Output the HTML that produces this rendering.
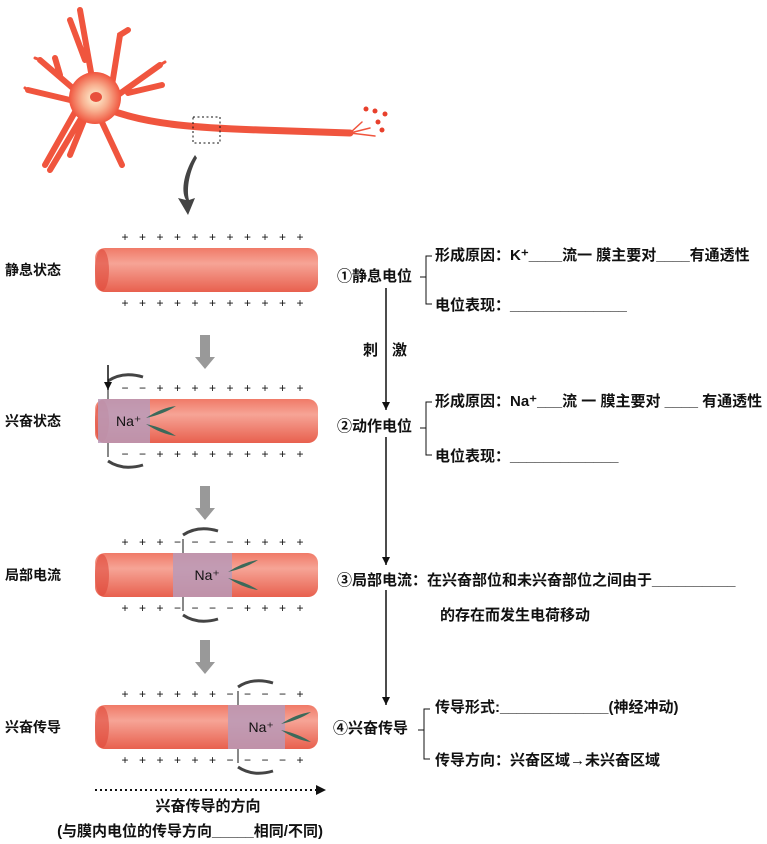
<!DOCTYPE html>
<html><head><meta charset="utf-8"><style>
body{margin:0;background:#fff;width:767px;height:844px;overflow:hidden}
svg{display:block}
text{font-family:"Liberation Sans","Noto Sans CJK SC",sans-serif;fill:#111}
.t{font-size:14px;font-weight:bold}
.r{font-size:15px;font-weight:bold}
</style></head><body>
<svg id="s" width="767" height="844" viewBox="0 0 767 844">
<defs>
<linearGradient id="ax" x1="0" y1="0" x2="0" y2="1">
<stop offset="0" stop-color="#f07a68"/><stop offset="0.35" stop-color="#f6a496"/><stop offset="1" stop-color="#e8604e"/></linearGradient>
<radialGradient id="soma"><stop offset="0" stop-color="#fff6d8"/><stop offset="0.5" stop-color="#f8b090"/><stop offset="1" stop-color="#f0553e"/></radialGradient>
<marker id="ar" markerWidth="8" markerHeight="8" refX="8" refY="4" orient="auto" markerUnits="userSpaceOnUse"><path d="M0,0 L8,4 L0,8z" fill="#111"/></marker>
</defs>
<g stroke="#f0553e" fill="none" stroke-linecap="round">
<path d="M95,95 L80,10 M85,60 L70,20 M112,85 L120,35 L128,30 M75,90 L40,60 M60,75 L55,58 M70,100 L28,90 M118,95 L160,65 M128,93 L162,85 M75,112 L45,165 M85,118 L70,155 M100,118 L122,165 M80,120 L50,170" stroke-width="6"/>
<path d="M40,60 L35,58 M28,90 L25,88 M160,65 L165,62" stroke-width="3"/>
<path d="M110,110 C150,125 200,128 260,130 L350,133" stroke-width="7"/>
<path d="M350,133 L362,122 M350,133 L370,128 M350,133 L375,136" stroke-width="1.5"/>
<circle cx="95" cy="98" r="26" fill="url(#soma)" stroke="none"/>
<ellipse cx="96" cy="97" rx="6" ry="5" fill="#e8503c" stroke="none"/>
<g fill="#e8402c" stroke="none"><circle cx="366" cy="109" r="2.5"/><circle cx="375" cy="111" r="2.5"/><circle cx="385" cy="114" r="2.5"/><circle cx="378" cy="122" r="2.5"/><circle cx="382" cy="130" r="2.5"/></g>
</g>
<rect x="193" y="117" width="27" height="26" fill="none" stroke="#111" stroke-dasharray="2,2.5"/>
<path d="M195,155 C185,170 180,190 186,200 L178,198 L188,215 L195,198 L189,200 C186,188 190,170 197,158z" fill="#444"/>
<g id="axons"></g>
<g>
<line x1="386" y1="288" x2="386" y2="410" stroke="#111" stroke-width="1.5" marker-end="url(#ar)"/>
<line x1="386" y1="437" x2="386" y2="565" stroke="#111" stroke-width="1.5" marker-end="url(#ar)"/>
<line x1="386" y1="590" x2="386" y2="705" stroke="#111" stroke-width="1.5" marker-end="url(#ar)"/>
<text class="r" x="363" y="355">刺</text>
<text class="r" x="392" y="355">激</text>
<text class="r" x="337" y="281">①静息电位</text>
<path d="M420,277 h6 M432,256 h-6 v48 h6" stroke="#111" fill="none"/>
<text class="r" x="435" y="260">形成原因：K⁺____流一  膜主要对____有通透性</text>
<text class="r" x="435" y="310">电位表现：______________</text>
<text class="r" x="337" y="431">②动作电位</text>
<path d="M420,428 h6 M432,402 h-6 v53 h6" stroke="#111" fill="none"/>
<text class="r" x="435" y="406">形成原因：Na⁺___流 一 膜主要对 ____ 有通透性</text>
<text class="r" x="435" y="461">电位表现：_____________</text>
<text class="r" x="337" y="585">③局部电流：在兴奋部位和未兴奋部位之间由于__________</text>
<text class="r" x="440" y="620">的存在而发生电荷移动</text>
<text class="r" x="333" y="733">④兴奋传导</text>
<path d="M418,730 h6 M430,709 h-6 v50 h6" stroke="#111" fill="none"/>
<text class="r" x="435" y="712">传导形式:_____________(神经冲动)</text>
<text class="r" x="435" y="765">传导方向：兴奋区域→未兴奋区域</text>
</g>
<line x1="95" y1="790" x2="318" y2="790" stroke="#111" stroke-width="2" stroke-dasharray="2,3"/>
<path d="M316,785 L326,790 L316,795z" fill="#111"/>
<text class="r" x="208" y="811" text-anchor="middle">兴奋传导的方向</text>
<text class="r" x="190" y="836" text-anchor="middle">(与膜内电位的传导方向_____相同/不同)</text>
</svg>
<script>
const stateLabels=["静息状态","兴奋状态","局部电流","兴奋传导"];
const centersY=[270,421,575,727];
const excitedStart=[null,98,173,228];
const excitedEnd=[null,150,232,285];
const NS="http://www.w3.org/2000/svg";
const g=document.getElementById('axons');
function mk(t,a,p){const e=document.createElementNS(NS,t);for(const k in a)e.setAttribute(k,a[k]);(p||g).appendChild(e);return e;}
const x0=95,x1=318,h=44;
stateLabels.forEach((lab,i)=>{
 const cy=centersY[i];
 const grp=mk('g',{});
 
 
 const t=mk('text',{x:5,y:cy+5,class:'t'},grp);t.textContent=lab;
 
 
 mk('rect',{x:x0,y:cy-h/2,width:x1-x0,height:h,rx:10,fill:'url(#ax)'},grp);
 mk('ellipse',{cx:x0+7,cy:cy,rx:7,ry:h/2-1,fill:'#e04a3a',opacity:0.6},grp);
 const es=excitedStart[i],ee=excitedEnd[i];
 if(es!==null){
  mk('rect',{x:es,y:cy-h/2,width:ee-es,height:h,fill:'#b99ab8',opacity:0.85},grp);
  const n=mk('text',{x:es+(ee-es)/2-8,y:cy+5,'font-size':'14','font-family':'Liberation Serif',fill:'#111'},grp);n.textContent='Na⁺';
  mk('path',{d:`M${ee-4},${cy-3} q15,-10 30,-12 q-12,8 -30,12z M${ee-4},${cy+3} q15,10 30,12 q-12,-8 -30,-12z`,fill:'#3c6a5a'},grp);
  mk('path',{d:`M${es+10},${cy-h/2-18} q15,-10 35,-4`,stroke:'#444','stroke-width':3,fill:'none'},grp);
  mk('path',{d:`M${es+10},${cy+h/2+18} q15,10 35,4`,stroke:'#444','stroke-width':3,fill:'none'},grp);
  mk('line',{x1:es+10,y1:cy-h/2-14,x2:es+10,y2:cy-h/2,stroke:'#111'},grp);
  mk('line',{x1:es+10,y1:cy+h/2,x2:es+10,y2:cy+h/2+14,stroke:'#111'},grp);
 }
 for(let x=x0+30;x<=x1-8;x+=17.5){
  const inEx=es!==null&&x>=es&&x<=ee+8;
  const ch=inEx?'−':'+';
  const a=mk('text',{x:x,y:cy-h/2-7,'font-size':'12','text-anchor':'middle'},grp);a.textContent=ch;
  const b=mk('text',{x:x,y:cy+h/2+15,'font-size':'12','text-anchor':'middle'},grp);b.textContent=ch;
 }
 if(i<3){
  const ay=cy+65;
  const ar=mk('path',{d:`M200,${ay} h10 v22 h5 l-10,12 l-10,-12 h5z`,fill:'#999'},grp);
  
  
 }
});
mk('line',{x1:108,y1:365,x2:108,y2:390,stroke:'#111','stroke-width':1.5,'marker-end':'url(#ar)'});
</script>
</body></html>
